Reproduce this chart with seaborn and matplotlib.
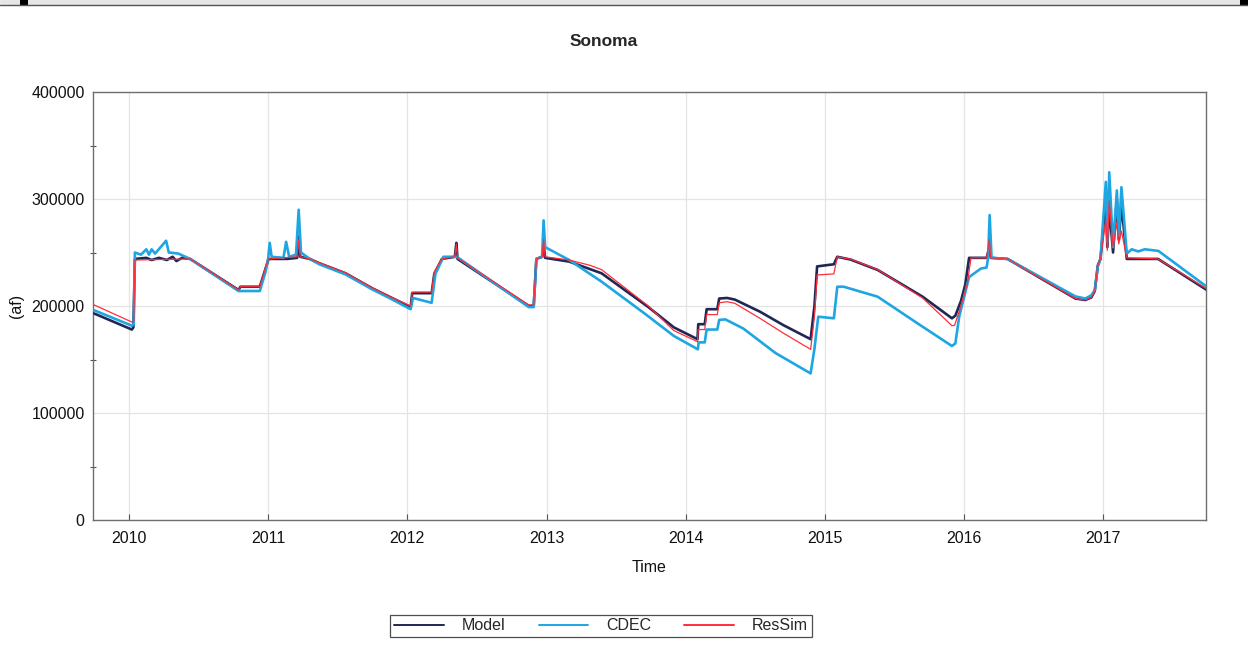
import matplotlib
matplotlib.use("Agg")
import matplotlib.pyplot as plt
import matplotlib.dates as mdates
from matplotlib.ticker import MultipleLocator, FuncFormatter
import seaborn as sns
import pandas as pd

# ---------------- data ----------------
title = "Sonoma"
series_names = ["Model", "CDEC", "ResSim"]
year_ticks = ["2010", "2011", "2012", "2013", "2014", "2015", "2016", "2017"]

model_dates = [
    "2009-10-01", "2010-01-08", "2010-01-12", "2010-01-16", "2010-02-15", "2010-03-01", "2010-03-20",
    "2010-04-10", "2010-04-25", "2010-05-05", "2010-05-20", "2010-06-10", "2010-10-15", "2010-10-20",
    "2010-12-10", "2010-12-25", "2011-01-02", "2011-02-20", "2011-03-18", "2011-03-22", "2011-03-26",
    "2011-04-20", "2011-05-15", "2011-07-23", "2011-10-01", "2011-11-15", "2012-01-10", "2012-01-14",
    "2012-03-05", "2012-03-12", "2012-04-01", "2012-05-05", "2012-05-09", "2012-05-12", "2012-11-15",
    "2012-11-28", "2012-12-05", "2012-12-20", "2012-12-24", "2012-12-28", "2013-03-01", "2013-05-25",
    "2013-09-25", "2013-12-01", "2014-02-01", "2014-02-03", "2014-02-20", "2014-02-25", "2014-03-25",
    "2014-03-30", "2014-04-20", "2014-05-10", "2014-07-15", "2014-09-15", "2014-11-25", "2014-12-05",
    "2014-12-12", "2015-01-25", "2015-02-03", "2015-03-10", "2015-05-20", "2015-09-15", "2015-12-01",
    "2015-12-10", "2015-12-25", "2016-01-05", "2016-01-15", "2016-03-01", "2016-03-08", "2016-03-12",
    "2016-04-25", "2016-10-20", "2016-11-15", "2016-12-01", "2016-12-10", "2016-12-18", "2016-12-25",
    "2017-01-08", "2017-01-12", "2017-01-17", "2017-01-27", "2017-02-06", "2017-02-11", "2017-02-18",
    "2017-03-04", "2017-05-25", "2017-09-30",
]
model_values = [
    193000, 178000, 180000, 244000, 245000, 243000, 245000,
    243000, 246000, 242000, 245000, 244000, 215000, 218000,
    218000, 235000, 244000, 244000, 245000, 265000, 246000,
    244000, 240000, 230600, 216600, 208700, 199000, 212000,
    212000, 230000, 244000, 246000, 259000, 244000, 200000,
    200000, 244000, 246000, 259000, 245000, 241500, 230600,
    199000, 180000, 169000, 183000, 183000, 197000, 197000,
    207000, 207500, 206000, 194700, 182000, 169000, 200000,
    237000, 239000, 246000, 243400, 233700, 208700, 188500,
    191000, 205000, 220000, 245000, 245000, 254000, 245000,
    244000, 207000, 205600, 208000, 214000, 238000, 244000,
    299000, 255000, 293000, 250000, 300000, 262000, 295000,
    244000, 244000, 215000,
]

cdec_dates = [
    "2009-10-01", "2010-01-08", "2010-01-13", "2010-01-16", "2010-02-01", "2010-02-15", "2010-02-22",
    "2010-03-01", "2010-03-10", "2010-04-08", "2010-04-15", "2010-05-10", "2010-06-10", "2010-10-15",
    "2010-12-10", "2010-12-25", "2011-01-01", "2011-01-05", "2011-01-10", "2011-02-10", "2011-02-17",
    "2011-02-25", "2011-03-15", "2011-03-22", "2011-03-28", "2011-04-20", "2011-05-15", "2011-07-23",
    "2011-10-01", "2011-11-15", "2012-01-10", "2012-01-16", "2012-03-05", "2012-03-15", "2012-04-05",
    "2012-05-10", "2012-11-15", "2012-11-28", "2012-12-05", "2012-12-20", "2012-12-24", "2012-12-28",
    "2013-03-01", "2013-05-25", "2013-09-15", "2013-12-01", "2014-02-02", "2014-02-04", "2014-02-20",
    "2014-02-25", "2014-03-25", "2014-03-30", "2014-04-15", "2014-06-01", "2014-08-25", "2014-11-25",
    "2014-12-05", "2014-12-15", "2015-01-25", "2015-02-03", "2015-02-20", "2015-05-20", "2015-09-05",
    "2015-12-01", "2015-12-10", "2015-12-20", "2016-01-15", "2016-02-15", "2016-03-01", "2016-03-05",
    "2016-03-09", "2016-03-14", "2016-04-25", "2016-10-20", "2016-11-15", "2016-12-01", "2016-12-10",
    "2016-12-18", "2016-12-25", "2017-01-08", "2017-01-12", "2017-01-17", "2017-01-27", "2017-02-06",
    "2017-02-11", "2017-02-18", "2017-03-04", "2017-03-17", "2017-04-03", "2017-04-20", "2017-05-26",
    "2017-09-30",
]
cdec_values = [
    196000, 181600, 183000, 250000, 248000, 253000, 248000,
    253000, 249000, 261000, 250000, 249000, 244000, 214000,
    214000, 232000, 245000, 259000, 246000, 245000, 260000,
    246000, 248000, 290000, 250000, 244000, 239000, 229500,
    215500, 207500, 197000, 207500, 203000, 230000, 246000,
    246000, 199000, 199000, 244000, 246000, 280000, 255000,
    243000, 222800, 193000, 172000, 159500, 166000, 166000,
    178000, 178000, 187000, 187500, 179000, 156000, 137000,
    160000, 190000, 188500, 218000, 218000, 208700, 183000,
    162600, 165000, 190000, 227000, 235000, 236000, 245000,
    285000, 245000, 244000, 209000, 207000, 210000, 215000,
    237000, 244000, 316000, 260000, 325000, 255000, 308000,
    265000, 311000, 249000, 253000, 251000, 253000, 251500,
    218000,
]

ressim_dates = [
    "2009-10-01", "2010-01-08", "2010-01-13", "2010-01-16", "2010-06-10", "2010-10-15", "2010-10-20",
    "2010-12-10", "2010-12-25", "2011-01-02", "2011-03-18", "2011-03-22", "2011-03-26", "2011-04-20",
    "2011-05-15", "2011-07-23", "2011-10-01", "2011-11-15", "2012-01-10", "2012-01-14", "2012-03-05",
    "2012-03-12", "2012-04-01", "2012-05-05", "2012-05-09", "2012-05-12", "2012-11-15", "2012-11-28",
    "2012-12-05", "2012-12-20", "2012-12-24", "2012-12-28", "2013-03-01", "2013-04-25", "2013-05-25",
    "2013-09-25", "2013-12-01", "2014-02-01", "2014-02-03", "2014-02-20", "2014-02-25", "2014-03-25",
    "2014-03-30", "2014-04-20", "2014-05-10", "2014-07-15", "2014-09-15", "2014-11-25", "2014-12-05",
    "2014-12-12", "2015-01-25", "2015-02-03", "2015-03-10", "2015-05-20", "2015-09-15", "2015-12-01",
    "2015-12-08", "2015-12-20", "2016-01-10", "2016-01-20", "2016-03-01", "2016-03-08", "2016-03-12",
    "2016-04-25", "2016-10-20", "2016-11-15", "2016-12-01", "2016-12-10", "2016-12-18", "2016-12-25",
    "2017-01-08", "2017-01-12", "2017-01-17", "2017-01-27", "2017-02-06", "2017-02-11", "2017-02-18",
    "2017-03-04", "2017-05-25", "2017-09-30",
]
ressim_values = [
    201000, 185000, 186000, 243000, 244000, 215000, 218000,
    218000, 236000, 244000, 246000, 262000, 246000, 244000,
    240500, 231000, 217000, 209000, 200000, 213000, 213000,
    232000, 244000, 246000, 258000, 245000, 201000, 201000,
    244000, 246000, 262000, 246000, 243000, 238000, 234000,
    200000, 177000, 166700, 178000, 178000, 192000, 192000,
    203000, 204000, 202500, 188500, 174500, 159500, 190000,
    229000, 230000, 246000, 243800, 234000, 207500, 181600,
    182000, 195000, 220000, 245000, 245000, 262000, 245000,
    244000, 207000, 205600, 208000, 214000, 238000, 244000,
    280000, 252000, 298000, 255000, 278000, 258000, 270000,
    245000, 244000, 216000,
]

colors = {"Model": "#1f2755", "CDEC": "#1ea6e3", "ResSim": "#ff2d3a"}
widths = {"Model": 1.9, "CDEC": 1.9, "ResSim": 0.9}

# ---------------- plot ----------------
sns.set_style("white")
plt.rcParams["font.family"] = ["Liberation Sans", "DejaVu Sans"]

fig = plt.figure(figsize=(12.48, 6.56), dpi=100)
ax = fig.add_axes([93 / 1248, 1 - 520 / 656, (1206 - 93) / 1248, (520 - 92) / 656])

frames = {
    "Model": pd.DataFrame({"date": pd.to_datetime(model_dates), "af": model_values}),
    "CDEC": pd.DataFrame({"date": pd.to_datetime(cdec_dates), "af": cdec_values}),
    "ResSim": pd.DataFrame({"date": pd.to_datetime(ressim_dates), "af": ressim_values}),
}
for i, name in enumerate(series_names):
    df = frames[name]
    sns.lineplot(data=df, x="date", y="af", ax=ax, color=colors[name], lw=widths[name],
                 estimator=None, sort=False, label=name, zorder=3 + i)

ax.set_xlim(pd.Timestamp("2009-09-28"), pd.Timestamp("2017-09-28"))
ax.set_ylim(0, 400000)
ax.yaxis.set_major_locator(MultipleLocator(100000))
ax.yaxis.set_minor_locator(MultipleLocator(50000))
ax.yaxis.set_major_formatter(FuncFormatter(lambda v, p: f"{int(v)}"))
ax.xaxis.set_major_locator(mdates.YearLocator())
ax.xaxis.set_major_formatter(mdates.DateFormatter("%Y"))

ax.grid(True, which="major", color="#e4e4e4", lw=0.9, zorder=0)
for s in ax.spines.values():
    s.set_color("#6e6e6e")
    s.set_linewidth(1.0)
ax.tick_params(axis="y", which="major", direction="out", length=4, width=0.8, colors="#555555",
               labelcolor="#111111", labelsize=11.5, pad=2)
ax.tick_params(axis="y", which="minor", left=True, direction="inout", length=4, width=0.8, colors="#555555")
ax.tick_params(axis="x", which="major", bottom=True, direction="in", length=4, width=0.8, colors="#555555",
               labelcolor="#111111", labelsize=11.5, pad=8)

ax.set_xlabel("Time", fontsize=11.5, color="#111111", labelpad=10)
ax.set_ylabel("(af)", fontsize=11.5, color="#111111", labelpad=5)

fig.text(604 / 1248, 1 - 42 / 656, title, ha="center", va="center", fontsize=12.5, fontweight="bold")

if ax.get_legend() is not None:
    ax.get_legend().remove()
handles, labels = ax.get_legend_handles_labels()
leg = fig.legend(handles, labels, loc="center", bbox_to_anchor=(601 / 1248, 1 - 626 / 656), ncol=3,
                 frameon=True, fancybox=False, edgecolor="#222222", fontsize=11.5,
                 handlelength=3.1, handletextpad=1.1, columnspacing=2.1, borderpad=0.25,
                 borderaxespad=0)
leg.get_frame().set_linewidth(0.9)
for lh in leg.get_lines():
    lh.set_linewidth(1.4)

# thin screenshot strip at the very top
fig.add_artist(plt.Rectangle((0, 1 - 5 / 656), 1, 5 / 656, transform=fig.transFigure,
                             facecolor="#e6e6e6", edgecolor="none"))
fig.add_artist(plt.Line2D([0, 1], [1 - 5 / 656, 1 - 5 / 656], transform=fig.transFigure,
                          color="#555555", lw=1.0))
fig.add_artist(plt.Rectangle((20 / 1248, 1 - 6 / 656), 8 / 1248, 6 / 656, transform=fig.transFigure,
                             facecolor="black", edgecolor="none"))
fig.add_artist(plt.Rectangle((1240 / 1248, 1 - 6 / 656), 8 / 1248, 6 / 656, transform=fig.transFigure,
                             facecolor="black", edgecolor="none"))

fig.savefig("out.png", dpi=100)
